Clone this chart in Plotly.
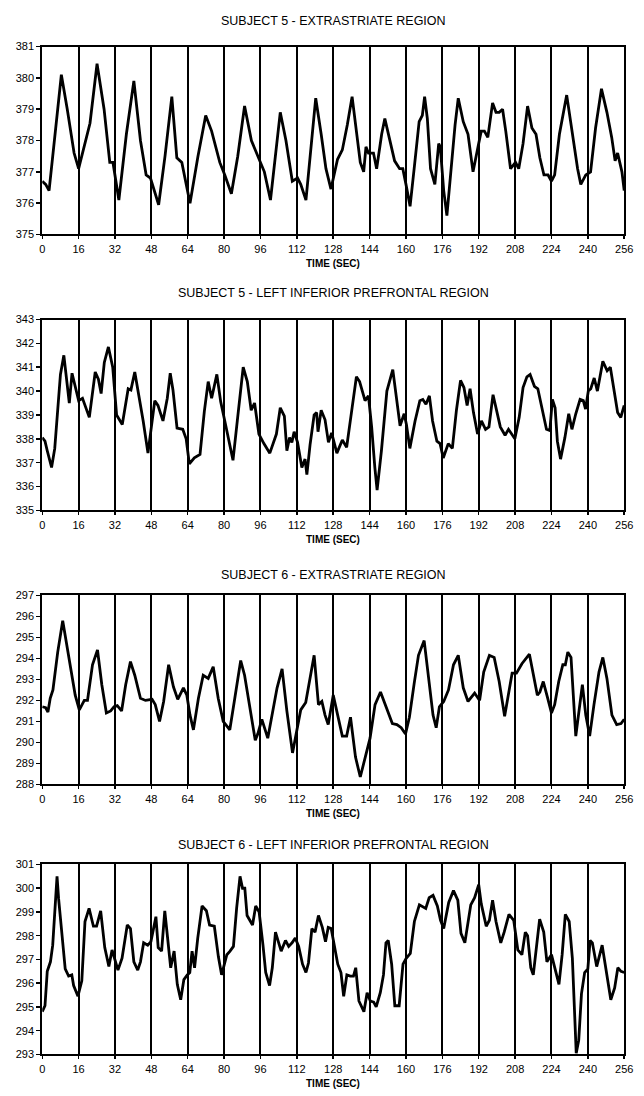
import plotly.graph_objects as go

# ---------------- data ----------------
titles = [
    "SUBJECT 5 - EXTRASTRIATE REGION",
    "SUBJECT 5 - LEFT INFERIOR PREFRONTAL REGION",
    "SUBJECT 6 - EXTRASTRIATE REGION",
    "SUBJECT 6 - LEFT INFERIOR PREFRONTAL REGION",
]
x_ticks = [0, 16, 32, 48, 64, 80, 96, 112, 128, 144, 160, 176, 192, 208, 224, 240, 256]
y_ranges = [(375, 381), (335, 343), (288, 297), (293, 301)]
x_title = "TIME (SEC)"

t1 = [0, 1.5, 3, 5.5, 8.4, 11, 14, 16, 18, 21, 24.1, 27.2, 29.7, 31.1, 33.7, 37, 40.3, 43.2, 45.7,
      47.6, 51.2, 54, 57, 59.2, 61.4, 65, 68.5, 71.9, 74.5, 78.1, 80.3, 83.2, 86, 89, 92, 94.8, 97.7,
      100.4, 104.7, 107.2, 110, 112.3, 113.7, 116, 120.3, 122.7, 124.8, 127, 129.9, 132, 134.2, 136.3,
      138.5, 139.9, 141.4, 142.4, 143.5, 145.7, 147.1, 149.3, 150.7, 152.9, 155, 157.2, 158.6, 160,
      161.8, 163.6, 165.8, 167.2, 168.2, 169.4, 170.8, 172.7, 174.4, 175.1, 176.6, 178, 179.4, 181.6,
      183, 185.2, 187.3, 189.5, 191.7, 193.1, 194.5, 196, 198.1, 199.6, 201, 202.5, 203.9, 206, 208.2,
      209.6, 211.5, 213.5, 215.4, 217.2, 218.9, 220.7, 222.5, 224, 225.4, 227.5, 230.7, 233.3, 235.5,
      236.9, 239.1, 241.2, 243.4, 246, 248.4, 250.5, 252, 253.1, 254.2, 255, 256]
v1 = [376.7, 376.6, 376.4, 378.2, 380.1, 379.0, 377.6, 377.1, 377.7, 378.55, 380.45, 379.0, 377.3,
      377.3, 376.1, 378.2, 379.9, 378.0, 376.9, 376.8, 375.95, 377.5, 379.4, 377.45, 377.3, 376.0, 377.5,
      378.8, 378.3, 377.3, 376.9, 376.3, 377.5, 379.1, 378.0, 377.5, 377.0, 376.1, 378.9, 378.0, 376.7,
      376.8, 376.6, 376.1, 379.35, 378.2, 377.1, 376.45, 377.4, 377.7, 378.5, 379.4, 378.2, 377.3, 377.0,
      377.8, 377.6, 377.6, 377.1, 378.2, 378.7, 378.0, 377.35, 377.1, 377.1, 376.6, 375.9, 377.1, 378.6,
      378.8, 379.4, 378.7, 377.1, 376.6, 377.9, 377.8, 376.4, 375.6, 376.8, 378.5, 379.35, 378.6, 378.2,
      377.0, 377.8, 378.3, 378.3, 378.1, 379.2, 378.9, 378.9, 379.0, 378.3, 377.1, 377.3, 377.1, 377.9,
      379.1, 378.4, 378.2, 377.45, 376.9, 376.9, 376.7, 376.9, 378.2, 379.45, 378.2, 377.1, 376.6, 376.9,
      377.0, 378.4, 379.65, 378.9, 378.1, 377.35, 377.6, 377.2, 377.0, 376.4]

t2 = [0, 1.2, 2.2, 4.1, 5.5, 6.5, 8, 9.5, 10.9, 11.9, 13.1, 14.5, 16, 17.7, 20.7, 23.3, 24.7, 25.9,
      27.3, 29.1, 31, 32.7, 35.2, 37.8, 39, 40.7, 42.5, 44.4, 46.5, 48, 49.5, 50.9, 53.1, 55, 56.3,
      57.5, 59.3, 61.8, 63.3, 64.7, 66.9, 69.4, 71.3, 73, 74.5, 76.8, 78.5, 80.3, 82.2, 83.9, 85.8,
      88.4, 90.2, 91.9, 93.4, 95.3, 97.5, 100.1, 103, 104.7, 106.5, 107.6, 108.8, 109.8, 110.8, 112.3,
      114.2, 115.6, 116.4, 117.8, 119.6, 120.7, 121.3, 122.7, 124.4, 125.9, 127.3, 129.6, 132, 133.9,
      136.3, 138.2, 139.6, 142, 143.5, 144.9, 146.3, 147.3, 149.2, 151.6, 154.2, 155.9, 157.4, 159.2,
      160.2, 161.7, 164, 166.1, 167.4, 168.8, 170.3, 171.7, 173.6, 175, 176.4, 178.6, 180.4, 182.2,
      184, 185.5, 186.9, 188.2, 189.7, 191.5, 193.2, 195, 196.5, 198.3, 199.8, 201.5, 203.6, 205.1,
      207.9, 209.8, 211.5, 213.2, 214.6, 216.5, 218, 220.1, 221.8, 223.3, 224.4, 225.6, 226.6, 228,
      229.9, 231.6, 233, 234.7, 236.6, 238, 239, 240.2, 241.3, 242.8, 244.2, 246.6, 248.5, 249.9,
      251.6, 253.1, 254.5, 256]
v2 = [338.05, 337.9, 337.5, 336.8, 337.6, 338.8, 340.7, 341.5, 340.3, 339.5, 340.75, 340.2, 339.6,
      339.7, 338.9, 340.8, 340.5, 339.9, 341.2, 341.85, 341.0, 339.0, 338.6, 340.1, 340.05, 340.8,
      339.85, 338.75, 337.4, 338.4, 339.6, 339.4, 338.75, 339.7, 340.75, 340.05, 338.45, 338.4, 338.0,
      336.95, 337.2, 337.35, 339.15, 340.4, 339.7, 340.7, 339.55, 338.75, 337.9, 337.1, 338.75, 341.0,
      340.4, 339.2, 339.5, 338.2, 337.8, 337.4, 338.2, 339.3, 338.95, 337.5, 338.05, 337.85, 338.3,
      337.85, 336.8, 337.15, 336.5, 337.75, 339.0, 339.1, 338.3, 339.2, 338.8, 337.85, 338.25, 337.4,
      337.95, 337.65, 339.3, 340.6, 340.4, 339.6, 339.8, 338.5, 336.8, 335.85, 337.5, 340.0, 340.9,
      339.6, 338.55, 339.05, 338.6, 337.6, 338.75, 339.6, 339.65, 339.45, 339.8, 338.75, 337.9, 337.8,
      337.2, 337.8, 337.6, 339.2, 340.45, 340.15, 339.4, 340.1, 339.1, 338.2, 338.75, 338.4, 338.5,
      339.85, 339.25, 338.5, 338.15, 338.4, 338.0, 338.9, 340.15, 340.6, 340.7, 340.2, 340.1, 339.2,
      338.4, 338.35, 339.65, 339.3, 337.9, 337.15, 338.05, 339.05, 338.4, 339.05, 339.65, 339.6,
      339.25, 340.0, 340.1, 340.55, 340.0, 341.25, 340.85, 341.0, 339.9, 339.1, 338.9, 339.4]

t3 = [0, 1.5, 2.5, 3.5, 4.7, 6.8, 9, 10.8, 12.7, 14.5, 16.3, 18.5, 19.9, 22.1, 24.3, 26.2, 28.2,
      30.1, 31.6, 33, 34.9, 36.7, 38.8, 40.7, 43.2, 45.4, 48.3, 49.7, 51.6, 53.4, 55.6, 57.7, 59.6,
      62.1, 63.6, 65, 66.5, 68.7, 70.8, 73, 75.2, 77.4, 79.6, 82.5, 84.7, 87.3, 89, 91.2, 93.7, 94.8,
      96.6, 99.2, 100.9, 103.3, 105.5, 107.6, 110.1, 112, 113.7, 115.9, 117.8, 119.6, 121.5, 123,
      124.4, 125.8, 128, 129.9, 132, 133.9, 135.6, 137.8, 139.9, 142.1, 144.2, 146.4, 148.8, 151.4,
      154, 156, 157.9, 159.8, 161.5, 163.6, 165.5, 168, 170.1, 171.9, 173.3, 174.7, 176.6, 178.7,
      180.9, 183, 185.2, 187.3, 190.2, 192.4, 194.2, 196.7, 198.8, 201, 203.4, 205.3, 206.7, 208.6,
      211, 214.3, 216, 217.8, 218.9, 220.4, 222.1, 224, 225.4, 227.2, 229, 230.1, 231.2, 232.6, 234.7,
      236.4, 237.6, 239.1, 240.8, 242.7, 244.9, 246.6, 248.4, 250.6, 252.7, 254.6, 256]
v3 = [291.7, 291.65, 291.45, 292.1, 292.5, 294.3, 295.8, 294.6, 293.35, 292.25, 291.55, 292.0, 292.0,
      293.7, 294.4, 292.75, 291.4, 291.5, 291.7, 291.75, 291.5, 292.75, 293.85, 293.2, 292.1, 292.0,
      292.05, 291.8, 291.0, 291.95, 293.7, 292.65, 292.05, 292.6, 292.25, 291.3, 290.6, 292.1, 293.2,
      293.05, 293.6, 292.1, 291.0, 290.6, 292.1, 293.9, 293.2, 291.8, 290.1, 290.4, 291.1, 290.2, 291.2,
      292.6, 293.5, 291.5, 289.5, 290.55, 291.55, 291.9, 293.05, 294.15, 291.8, 291.95, 291.3, 290.85,
      292.25, 291.3, 290.3, 290.3, 291.2, 289.3, 288.35, 289.3, 290.2, 291.8, 292.4, 291.65, 290.9,
      290.85, 290.7, 290.4, 291.2, 292.8, 294.15, 294.85, 293.05, 291.3, 290.7, 291.7, 291.95, 292.5,
      293.7, 294.15, 292.6, 291.95, 292.35, 292.0, 293.35, 294.15, 294.05, 292.9, 291.25, 292.4, 293.3,
      293.3, 293.75, 294.2, 293.2, 292.25, 292.4, 292.9, 292.2, 291.4, 291.8, 292.9, 293.7, 293.7,
      294.3, 294.05, 290.3, 291.65, 292.75, 291.3, 290.3, 291.8, 293.35, 294.05, 293.05, 291.3, 290.85,
      290.9, 291.1]

t4 = [0, 1.2, 2.2, 3.6, 4.6, 5.8, 6.5, 7.2, 8.7, 10.1, 11.6, 13, 13.8, 15.7, 17.4, 18.8, 20.6, 22.5,
      23.9, 25.7, 27.5, 29.3, 30.7, 32.2, 33.3, 35.1, 37.4, 38.8, 40.3, 42, 43.2, 44.6, 46.4, 47.8, 49,
      50, 51, 52.5, 53.9, 55.4, 56.5, 58, 59.4, 60.9, 62.3, 63.8, 64.9, 65.9, 67, 68.4, 70.3, 72.2,
      73.6, 75.7, 77.5, 78.9, 81.2, 82.6, 84.1, 85.5, 87, 88.1, 89.1, 90.1, 92.5, 93.9, 95.4, 97.1,
      98.3, 100, 101.2, 102.6, 103.6, 105.1, 107, 108.4, 109.9, 111.3, 112.8, 114.5, 116, 117.1, 118.6,
      120, 121.5, 123.2, 124.6, 125.8, 127.1, 128.6, 130, 131.4, 132.6, 134, 135.5, 136.9, 137.9,
      139.3, 141.5, 142.9, 144.3, 145.8, 146.9, 148.7, 150.1, 151.2, 152.2, 153.7, 155.1, 157, 158.7,
      160.1, 161.9, 163.7, 165.9, 168.7, 170.2, 171.9, 173.8, 175.2, 176.6, 178.8, 180.9, 182.8,
      184.2, 185.9, 187.4, 188.5, 190.2, 192, 193.1, 195.3, 196.7, 198.1, 199.6, 201.7, 203.2, 205.3,
      207.4, 209.2, 211, 212.5, 213.5, 214.9, 216, 217.4, 218.8, 220.6, 222, 224, 225.4, 227.3, 228.7,
      230.1, 231.8, 233.2, 234.9, 236, 237.2, 238.6, 240, 241, 242, 243.9, 246.3, 248.2, 250.1, 251.8,
      253.2, 254.6, 256]
v4 = [294.8, 295.05, 296.5, 296.9, 297.6, 299.6, 300.5, 299.55, 297.9, 296.6, 296.3, 296.35, 295.9,
      295.45, 296.1, 298.6, 299.15, 298.4, 298.4, 299.05, 297.5, 296.7, 297.4, 296.9, 296.55, 297.05,
      298.45, 298.3, 296.9, 296.55, 296.9, 297.7, 297.6, 297.75, 298.4, 298.8, 297.5, 297.35, 299.05,
      297.7, 296.65, 297.35, 295.95, 295.3, 296.15, 296.35, 296.45, 297.35, 296.65, 297.9, 299.25,
      299.05, 298.45, 298.4, 297.1, 296.35, 297.2, 297.35, 297.55, 299.15, 300.5, 300.0, 300.0, 298.85,
      298.45, 299.25, 299.0, 297.6, 296.45, 295.9, 296.65, 298.15, 297.8, 297.35, 297.8, 297.55, 297.7,
      297.9, 297.55, 296.8, 296.45, 296.85, 298.3, 298.15, 298.85, 298.35, 297.75, 298.35, 298.3,
      297.45, 296.8, 296.45, 295.45, 296.35, 296.3, 296.3, 296.65, 295.25, 294.8, 295.6, 295.25, 295.2,
      295.0, 295.6, 296.35, 297.7, 297.8, 296.8, 295.05, 295.05, 296.8, 297.05, 297.25, 298.6, 299.3,
      299.15, 299.6, 299.7, 299.25, 298.65, 298.3, 299.4, 299.9, 299.5, 298.1, 297.7, 298.6, 299.3,
      299.6, 300.15, 299.35, 298.4, 298.65, 299.5, 298.6, 297.7, 298.15, 298.9, 298.65, 297.4, 297.2,
      298.15, 298.0, 296.65, 296.35, 297.6, 298.7, 298.15, 296.9, 297.2, 296.7, 295.95, 297.2, 298.9,
      298.6, 297.05, 293.05, 293.6, 295.55, 296.45, 296.6, 297.8, 297.7, 296.7, 297.6, 296.35, 295.3,
      295.8, 296.65, 296.5, 296.45]

series_t = [t1, t2, t3, t4]
series_v = [v1, v2, v3, v4]

# ---------------- layout ----------------
W, H = 644, 1096
plot_x = (40, 633)                                  # pixel columns of plot area
plot_y = [(41, 231), (317, 510), (596, 787), (868, 1060)]  # pixel rows (top, bottom)
title_y = [15, 290, 575, 848]

FONT = "Liberation Sans, Arial, Helvetica, sans-serif"

fig = go.Figure()
layout = dict(
    width=W, height=H, autosize=False,
    margin=dict(l=0, r=0, t=0, b=0),
    paper_bgcolor="white", plot_bgcolor="white",
    showlegend=False,
    font=dict(family=FONT, color="black"),
    annotations=[],
)

for i in range(4):
    n = "" if i == 0 else str(i + 1)
    fig.add_trace(go.Scatter(
        x=series_t[i], y=series_v[i], mode="lines",
        line=dict(color="black", width=2.8, shape="linear"),
        xaxis="x" + n, yaxis="y" + n, hoverinfo="skip",
    ))
    top, bot = plot_y[i]
    ydom = [1 - bot / H, 1 - top / H]
    xdom = [plot_x[0] / W, plot_x[1] / W]
    lo, hi = y_ranges[i]
    layout["xaxis" + n] = dict(
        domain=xdom, anchor="y" + n, range=[0, 256],
        tickmode="array", tickvals=x_ticks, ticktext=[str(v) for v in x_ticks],
        showgrid=True, gridcolor="black", gridwidth=2,
        showline=True, linecolor="black", linewidth=2, mirror=True,
        ticks="outside", ticklen=3, tickcolor="black", tickwidth=1.5,
        tickfont=dict(size=11, family=FONT, color="black"),
        zeroline=False, fixedrange=True,
    )
    layout["yaxis" + n] = dict(
        domain=ydom, anchor="x" + n, range=[lo, hi],
        tickmode="linear", tick0=lo, dtick=1,
        showgrid=False,
        showline=True, linecolor="black", linewidth=2, mirror=True,
        ticks="outside", ticklen=4, tickcolor="black", tickwidth=1.5,
        tickfont=dict(size=11, family=FONT, color="black"),
        zeroline=False, fixedrange=True,
    )
    layout["annotations"].append(dict(
        text=titles[i], xref="paper", yref="paper",
        x=(plot_x[0] + plot_x[1]) / 2 / W, y=1 - title_y[i] / H,
        xanchor="center", yanchor="middle", showarrow=False,
        font=dict(size=12.5, family=FONT, color="black"),
    ))
    layout["annotations"].append(dict(
        text="<b>" + x_title + "</b>", xref="paper", yref="paper",
        x=(plot_x[0] + plot_x[1]) / 2 / W, y=1 - (bot + 29) / H,
        xanchor="center", yanchor="middle", showarrow=False,
        font=dict(size=10, family=FONT, color="black"),
    ))

fig.update_layout(**layout)
fig.write_html(
    "out.html",
    config={"displayModeBar": False, "staticPlot": True},
    post_script="document.body.style.margin='0';document.body.style.overflow='hidden';",
)
